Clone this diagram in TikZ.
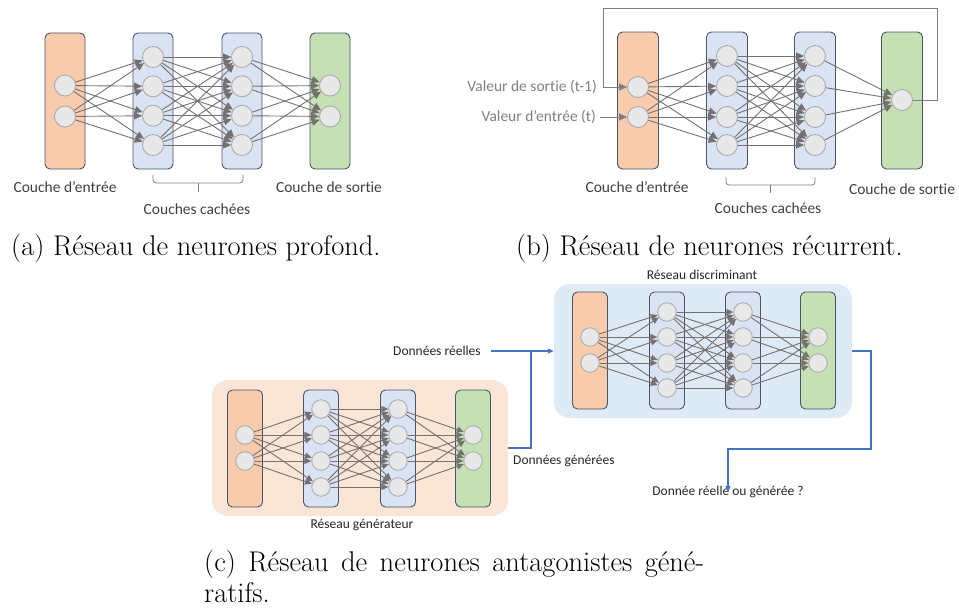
\documentclass[tikz,border=0pt]{standalone}
\usepackage{fontspec}
\newfontfamily\calibri[Ligatures=NoCommon]{Carlito}
\usetikzlibrary{arrows.meta}
\definecolor{inF}{HTML}{F8CBAD}
\definecolor{hidF}{HTML}{DAE3F3}
\definecolor{outF}{HTML}{C5E0B4}
\definecolor{lborder}{HTML}{4A5568}
\definecolor{nfill}{HTML}{E8E8E8}
\definecolor{nborder}{HTML}{A6A6A6}
\definecolor{cgray}{HTML}{767171}
\definecolor{lgray}{HTML}{7F7F7F}
\definecolor{dtext}{HTML}{404040}
\definecolor{discbg}{HTML}{DEEBF7}
\definecolor{genbg}{HTML}{FBE5D6}
\definecolor{lblue}{HTML}{4472C4}
\tikzset{
  neuron/.style={circle, draw=nborder, fill=nfill, line width=0.8pt, minimum size=\nd pt, inner sep=0pt},
  layerbox/.style={draw=lborder, rounded corners=5pt, line width=0.9pt, inner sep=0pt, minimum width=\bw pt, minimum height=\bh pt},
  conn/.style={draw=cgray, line width=0.9pt, -{Triangle[length=\al pt,width=\aw pt]}},
  lab/.style={font=\calibri\fontsize{15.5}{18}\selectfont, text=dtext, inner sep=0pt},
  glab/.style={font=\calibri\fontsize{15.5}{18}\selectfont, text=lgray, inner sep=0pt},
  clab/.style={font=\calibri\fontsize{13.5}{16}\selectfont, text=black!85, inner sep=0pt},
  bracket/.style={draw=lgray, line width=0.8pt, rounded corners=3pt},
  fbline/.style={draw=lgray, line width=1pt},
  bline/.style={draw=lblue, color=lblue, line width=1.2pt},
  captext/.style={font=\fontsize{28.5}{31}\selectfont, inner sep=0pt, anchor=base west},
  bgbox/.style={rounded corners=16pt, inner sep=0pt}
}
\newcommand\drawnet[9]{%
  \node[layerbox, fill=inF] (#1-b0) at (#2,#9) {};
  \node[layerbox, fill=hidF] (#1-b1) at (#3,#9) {};
  \node[layerbox, fill=hidF] (#1-b2) at (#4,#9) {};
  \node[layerbox, fill=outF] (#1-b3) at (#5,#9) {};
  \foreach \y [count=\i] in {#6} \node[neuron] (#1-0-\i) at (#2,\y) {};
  \foreach \y [count=\i] in {#7} {\node[neuron] (#1-1-\i) at (#3,\y) {}; \node[neuron] (#1-2-\i) at (#4,\y) {};}
  \foreach \y [count=\i] in {#8} \node[neuron] (#1-3-\i) at (#5,\y) {};
  \foreach \i in {1,2} \foreach \j in {1,...,4} \draw[conn] (#1-0-\i) -- (#1-1-\j);
  \foreach \i in {1,...,4} \foreach \j in {1,...,4} \draw[conn] (#1-1-\i) -- (#1-2-\j);
  \foreach \y [count=\k] in {#8} {\foreach \j in {1,...,4} \draw[conn] (#1-2-\j) -- (#1-3-\k);}
}
\begin{document}
\begin{tikzpicture}[x=1pt,y=-1pt]
\useasboundingbox (0,0) rectangle (959,608);
% ---------- (a) ----------
\def\bw{40}\def\bh{136}\def\nd{21}\def\al{8}\def\aw{7}
\drawnet{a}{65}{153}{242}{330}{85.5,116.5}{57,86.3,115.7,145}{85.5,116.5}{101}
\node[lab] (a-lin) at (65,187) {Couche d’entrée};
\node[lab] (a-lout) at (329,187) {Couche de sortie};
\draw[bracket] (153,175) -- (153,183) -- (243,183) -- (243,175);
\draw[bracket] (198,183) -- (198,192);
\node[lab] (a-lhid) at (197,209) {Couches cachées};
\node[captext] (a-cap) at (11,255) {(a) Réseau de neurones profond.};
% ---------- (b) ----------
\def\bw{41}\def\bh{137}
\drawnet{b}{638}{727}{815}{902}{87,117}{56,86,117,145}{100}{100.5}
\coordinate (fbtr) at (937,8);
\coordinate (fbtl) at (603,8);
\draw[fbline, -{Triangle[length=8pt,width=7pt]}] (b-3-1.east) -| (fbtr) -| (fbtl) |- (b-0-1.west);
\node[glab, anchor=east] (b-vs) at (597,87) {Valeur de sortie (t-1)};
\node[glab, anchor=east] (b-ve) at (596,117) {Valeur d’entrée (t)};
\draw[fbline, -{Triangle[length=8pt,width=7pt]}] ([xshift=4pt]b-ve.east) -- (b-0-2.west);
\node[lab] (b-lin) at (637,187) {Couche d’entrée};
\node[lab] (b-lout) at (902,189) {Couche de sortie};
\draw[bracket] (726,177) -- (726,185) -- (815,185) -- (815,177);
\draw[bracket] (770,185) -- (770,193);
\node[lab] (b-lhid) at (768,208) {Couches cachées};
\node[captext] (b-cap) at (516,255) {(b) Réseau de neurones récurrent.};
% ---------- (c) ----------
\node[bgbox, fill=discbg, minimum width=298pt, minimum height=134pt] (dbg) at (703,351) {};
\node[bgbox, fill=genbg, minimum width=296pt, minimum height=136pt] (gbg) at (360,448) {};
\def\bw{35}\def\bh{117}\def\nd{18.5}\def\al{7}\def\aw{6}
\drawnet{d}{590}{667}{743}{818}{337,363}{312,337,363,388}{337,363}{350.5}
\drawnet{g}{245}{321}{398}{473}{435,461}{409,435,461,487}{435,461}{448.5}
\node[clab] (dlab) at (702,275) {Réseau discriminant};
\node[clab] (glab) at (362,525) {Réseau générateur};
\node[clab, anchor=west] (dre) at (393,351) {Données réelles};
\coordinate (jn) at (531,351);
\draw[bline, -{Triangle[length=6pt,width=5pt]}] ([xshift=10pt]dre.east) -- (dbg.west);
\draw[bline] (gbg.east) -| (jn);
\node[clab, anchor=west] (dgen) at (513,461) {Données générées};
\coordinate (oc) at (871,449);
\node[clab] (dout) at (728,492) {Donnée réelle ou générée ?};
\draw[bline, -{Triangle[length=6pt,width=5pt]}] (dbg.east) -| (oc) -| ([yshift=-6pt]dout.north);
\node[captext] (c-cap1) at (204,571) {\makebox[500pt][s]{(c) Réseau de neurones antagonistes géné-}};
\node[captext] (c-cap2) at (204,602) {ratifs.};
\end{tikzpicture}
\end{document}
